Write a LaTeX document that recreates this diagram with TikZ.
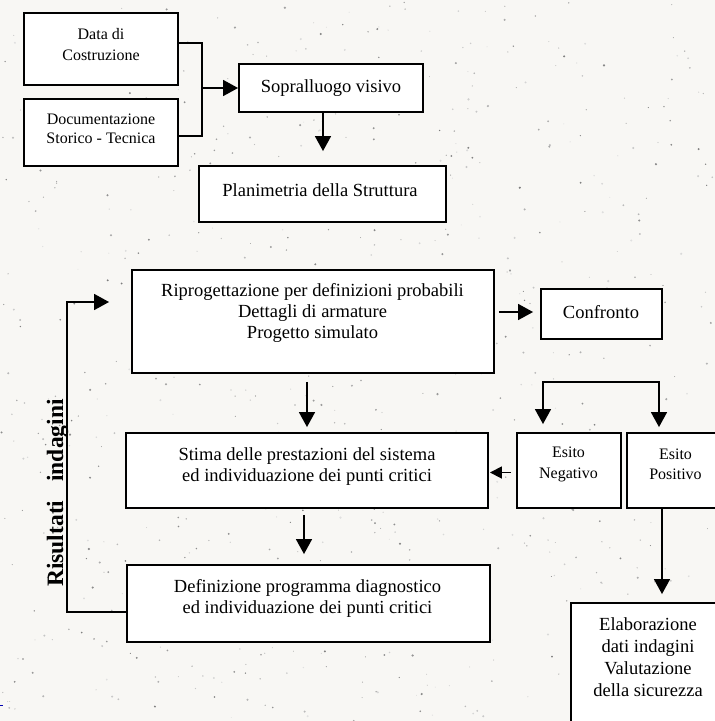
\documentclass[tikz,border=0pt]{standalone}
\usepackage{fontspec}
\setmainfont{Liberation Serif}
\usetikzlibrary{arrows.meta,calc}
\newcommand\fmain{\fontsize{18.5}{21}\selectfont}
\newcommand\fsmall{\fontsize{16}{20.5}\selectfont}
\newcommand\fside{\fontsize{23.5}{26}\selectfont\bfseries}
\definecolor{paper}{RGB}{248,247,244}
\tikzset{
  box/.style={draw=black, fill=white, line width=1.9pt, rectangle, inner sep=0pt},
  txt/.style={align=center, inner sep=0pt, font=\fmain},
  stxt/.style={align=center, inner sep=0pt, font=\fsmall},
  conn/.style={line width=1.7pt, line join=miter},
  arr/.style={conn, -{Triangle[length=15pt,width=16pt]}},
  sarr/.style={conn, -{Triangle[length=12pt,width=12pt]}},
}
\begin{document}
\begin{tikzpicture}[x=1pt,y=-1pt]
\useasboundingbox (0,0) rectangle (715,721);
\clip (0,0) rectangle (715,721);
% paper background
\fill[paper] (0,0) rectangle (715,721);
\pgfmathsetseed{7}
\foreach \i in {1,...,800}{
  \pgfmathsetmacro\xx{rnd*715}
  \pgfmathsetmacro\yy{rnd*721}
  \pgfmathsetmacro\rr{0.4+rnd*0.8}
  \pgfmathtruncatemacro\gg{12+rnd*40}
  \fill[black!\gg] (\xx,\yy) circle[radius=\rr pt];
}
% top section
\node[box, minimum width=154pt, minimum height=72pt] (data) at (101,49) {};
\node[stxt] (data-t) at (101,44.5) {Data di\\Costruzione};
\node[box, minimum width=154pt, minimum height=67pt] (doc) at (101,132.5) {};
\node[stxt, font=\fontsize{16}{19}\selectfont] (doc-t) at (101,128.5) {Documentazione\\Storico - Tecnica};
\node[box, minimum width=184pt, minimum height=48pt] (sopr) at (331,88) {};
\node[txt] (sopr-t) at (331,88) {Sopralluogo visivo};
\node[box, minimum width=247pt, minimum height=56pt] (plan) at (322.5,194) {};
\node[txt] (plan-t) at (320,190) {Planimetria della Struttura};
\coordinate (j) at (202,88);
\draw[conn] ([yshift=6pt]data.east) -| (j) |- ([yshift=-3.5pt]doc.east);
\draw[arr] (j) -- (sopr.west);
\coordinate (s1) at ([xshift=-8pt]sopr.south);
\draw[arr, shorten >=14pt] (s1) -- (s1 |- plan.north);
% middle section
\node[box, minimum width=362pt, minimum height=103pt] (rip) at (313,321.5) {};
\node[txt] (rip-t) at (312.5,313) {Riprogettazione per definizioni probabili\\Dettagli di armature\\Progetto simulato};
\node[box, minimum width=121pt, minimum height=50pt] (conf) at (601.5,314) {};
\node[txt] (conf-t) at (601,312) {Confronto};
\node[box, minimum width=362pt, minimum height=75pt] (stima) at (307,470.5) {};
\node[txt] (stima-t) at (307,466.5) {Stima delle prestazioni del sistema\\ed individuazione dei punti critici};
\node[box, minimum width=104pt, minimum height=75pt] (neg) at (569,470.5) {};
\node[stxt] (neg-t) at (568.5,464.5) {Esito\\Negativo};
\node[box, minimum width=97pt, minimum height=75pt] (pos) at (675.5,470.5) {};
\node[stxt] (pos-t) at (675.5,464.5) {Esito\\Positivo};
\node[box, minimum width=363pt, minimum height=77pt] (def) at (308.5,603.5) {};
\node[txt] (def-t) at (307.5,598.5) {Definizione programma diagnostico\\ed individuazione dei punti critici};
\node[box, minimum width=154pt, minimum height=130pt] (elab) at (648,668) {};
\node[txt, font=\fontsize{18.5}{22}\selectfont] (elab-t) at (648,657) {Elaborazione\\dati indagini\\Valutazione\\della sicurezza};
% side label
\node[rotate=90, anchor=base west, inner sep=0pt, font=\fside] (side) at (63,587) {Risultati\hspace{19pt}indagini};
% connectors
\coordinate (c1) at ([yshift=2pt]conf.west);
\draw[arr, shorten <=4pt, shorten >=7pt] (c1 -| rip.east) -- (c1);
\coordinate (c2) at (stima.north);
\draw[arr, shorten <=8pt, shorten >=5pt] (c2 |- rip.south) -- (c2);
\coordinate (c3) at ([xshift=-4.5pt]def.north);
\draw[arr, shorten <=6pt, shorten >=10pt] (c3 |- stima.south) -- (c3);
\coordinate (fb1) at (67,612);
\coordinate (fb2) at (67,302);
\draw[arr, shorten >=22pt] ([yshift=-8.5pt]def.west) -- (fb1) -- (fb2) -- (fb2 -| rip.west);
\coordinate (k1) at (543,382);
\coordinate (k2) at (659,382);
\draw[conn, {Triangle[length=15pt,width=16pt]}-{Triangle[length=15pt,width=16pt]}, shorten <=8pt, shorten >=5pt] (k1 |- neg.north) -- (k1) -- (k2) -- (k2 |- pos.north);
\coordinate (c4) at ([yshift=-2pt]neg.west);
\draw[sarr, shorten <=5pt, shorten >=1pt] (c4) -- (c4 -| stima.east);
\coordinate (c5) at ([xshift=-13.5pt]pos.south);
\draw[arr, shorten >=8pt] (c5) -- (c5 |- elab.north);
% small blue mark at left edge
\draw[blue!70!black, line width=1pt] (0,705.5) -- (2.5,705.5);
\end{tikzpicture}
\end{document}
